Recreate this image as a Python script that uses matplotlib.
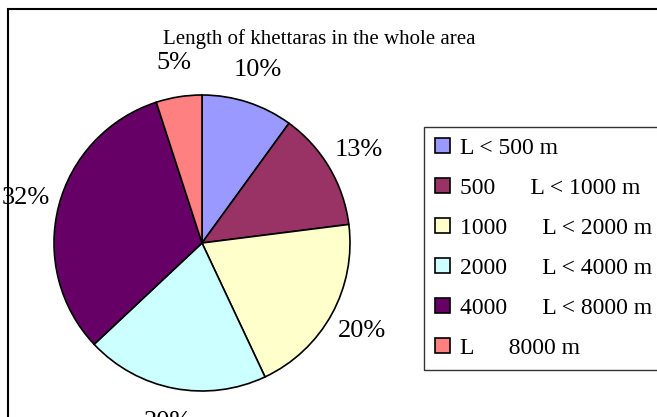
# pie of khettara lengths

import matplotlib.pyplot as plt
from matplotlib.patches import Rectangle

plt.rcParams['font.family'] = ['Liberation Serif', 'DejaVu Serif']

categories = ['L < 500 m', '500      L < 1000 m', '1000      L < 2000 m',
              '2000      L < 4000 m', '4000      L < 8000 m', 'L      8000 m']
shares = [10, 13, 20, 20, 32, 5]
colors = ['#9999FF', '#993366', '#FFFFCC', '#CCFFFF', '#660066', '#FF8080']
title = 'Length of khettaras in the whole area'

fig = plt.figure(figsize=(6.57, 4.17), dpi=100)
W, H = 657, 417
cx, cy, r = 202, 243, 148
ax = fig.add_axes([(cx - r) / W, (H - cy - r) / H, 2 * r / W, 2 * r / H])

wedges, texts = ax.pie(shares, colors=colors, startangle=90, counterclock=False,
                       wedgeprops=dict(edgecolor='black', linewidth=1.2),
                       labels=['%d%%' % s for s in shares], labeldistance=1.23,
                       textprops=dict(fontsize=19))
for t in texts:
    t.set_ha('center')
    t.set_va('center')
    t.set_clip_on(False)
ax.set_xlim(-1, 1)
ax.set_ylim(-1, 1)
ax.set_aspect('equal')

fig.text(319 / W, 1 - 39 / H, title, ha='center', va='center', fontsize=15)

leg = fig.legend(wedges, categories, loc='upper left',
                 bbox_to_anchor=(424 / W, 1 - 127 / H), fontsize=17,
                 frameon=True, fancybox=False, edgecolor='black',
                 handlelength=0.64, handleheight=0.6, handletextpad=0.4,
                 borderpad=0.47, labelspacing=0.8, borderaxespad=0)
leg.get_frame().set_linewidth(1.0)

# outer frame of the original chart
fig.patches.append(Rectangle((8 / W, -0.1), 1.2, 1 - 9 / H + 0.1, transform=fig.transFigure,
                             fill=False, edgecolor='black', linewidth=1.5))

fig.savefig('out.png', dpi=100)
